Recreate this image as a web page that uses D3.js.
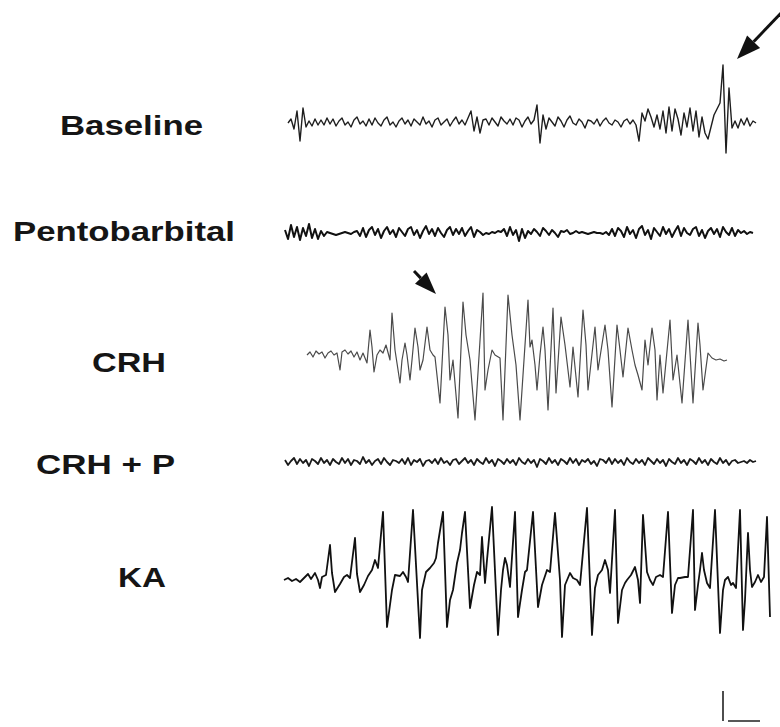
<!DOCTYPE html>
<html>
<head>
<meta charset="utf-8">
<script src="https://cdn.jsdelivr.net/npm/d3@7"></script>
<style>
  body { margin: 0; background: #fff; }
  svg { display: block; }
</style>
</head>
<body>
<div id="root"></div>
<script>
// Page size
const width = 780
const height = 727

// Row labels
const labels = ['Baseline', 'Pentobarbital', 'CRH', 'CRH + P', 'KA']

// Time is in 10 ms steps from the left edge of the traces
// Equally spaced traces: start time, step and amplitudes
const baselineStart = 8
const baselineStep = 3
const baselineAmp = [
  0, 4, -6, 12, -18, 15, -4, 2, -3, 4, -2,
  3, -2, 5, -1, 4, -3, 2, 5, -2, 1, -4, 3, 6, -1, 2, -3, 4, -2, 5, 0, -3, 3, 6, -2, 1, -4, 2, 5, -1, 3, -3, 4, 1, -2, 6, -1, 2, -4, 3, 5, -2, 1, 4, -3, 2, 6, -1, 3, -2, 5,
  12, -8, 6, -10, 3,
  4, -2, 5, 1, -3, 6, 2, -1, 4, -2, 5, 3, -4, 2, 6, -1, 3,
  18, -20, 8, -6,
  5, 1, -3, 6, 2, -4, 3, 7, 0, -2, 4, 1, -5, 3, 2, -1, 4, -3, 2, 5, 0, -2, 3, 1, -4, 2, 4, -1, 3, -2,
  -18, 10, 2, 14, 6, -4, 8, -6, 12, -10, 16, -8, 14, 4, -12, 10, -4, 15, -8, 12, -14, 6, -10, -16,
  -4, 8, 14, 20, 58, -30, 35, -5, 2,
  -5, 4, -2, 5, -3, 2, 0
]

const pentoStart = 5
const pentoStep = 3
const pentoAmp = [
  3, -6, 8, -4, 6, -7, 5, -3, 9, -5, 4, -6, 2, -3,
  1, 0, -1, -2, -1, 0, 1, 0, -1, 1, 2,
  -3, 5, -4, 3, 6, -2, 4, -5, 2, 6, -1, 3, -4, 5, 1, -3, 4, 6, -2, 3, -5, 2, 7, -1, 4, -3, 5, 0, -4, 3, 6, -2, 4, -1, 5, -3, 2, 6, -4, 3, 1, -2,
  0, -1, 1, 0, 2, 1,
  4, -3, 6, -2, 3, -8, 4, -5, 2,
  -1, 4, 1, -3, 5, 2, -2, 3, 0, -4, 2, 1, 3, -1, 0, 2,
  0, 1, 0, -1, 0, 1, 0, 0, -1, 1,
  -2, 4, -3, 5, 2, -4, 6, -1, 3, -5, 4, 7, -2, 3, -6, 5, 1, -3, 6, -1, 4, -4, 2, 7, -3, 5, 0, -2, 4, 6, -3, 3, -5, 2, 5, -1, 4, -4, 6, 1, -2, 5, -3, 3, 0, 2, -1, 1, 0
]

const crhpStart = 5
const crhpStep = 3
const crhpAmp = [
  2, -3, 1, 4, -2, 3, -1, 2, -4, 3, 1, -2, 4, -1, 2, -3, 3, 0, -2, 4,
  -1, 3, -3, 2, 1, -2, 5, -1, 2, -3, 1, 3, -2, 4, 0, -3, 2, 1, -1, 3,
  -2, 4, -3, 2, 0, 3, -4, 1, 2, -1, 3, -2, 4, -1, 1, -3, 2, 3, -2, 1,
  4, -1, 2, -3, 3, 0, -2, 4, -1, 2, -4, 3, 1, -2, 3, -1, 2, -3, 4, 0,
  -2, 3, -1, 2, -5, 3, 1, -2, 4, -1, 2, -3, 3, 1, -2, 4, -1, 3, -3, 2,
  0, 3, -2, 1, -4, 3, 2, -1, 4, -2, 3, -1, 2, -3, 4, 0, -2, 3, -1, 2,
  -3, 4, 1, -2, 3, -1, 2, -4, 3, 0, -2, 4, -1, 2, -3, 3, 1, -2, 4, -1,
  2, -3, 3, 0, -2, 4, -1, 2, -3, 1, 2, -1, 0, 1, -1, 2, 0, 1
]

// Spiky traces: time / amplitude pairs
const crhTime = [27, 30, 33, 36, 39, 42, 45, 48, 51, 54, 57, 60, 62, 65, 68, 71, 74, 77, 80, 83, 87, 90, 92, 94, 97, 100, 103, 106, 110, 112, 115, 120, 122, 125, 127, 130, 132, 135, 138, 140, 143, 147, 150, 153, 155, 160, 165, 168, 170, 173, 178, 183, 186, 190, 195, 203, 205, 208, 212, 215, 220, 223, 228, 232, 236, 240, 248, 250, 252, 255, 257, 260, 263, 265, 268, 273, 276, 281, 285, 290, 293, 298, 303, 306, 308, 315, 318, 325, 328, 332, 337, 340, 343, 348, 352, 355, 358, 362, 365, 368, 372, 375, 377, 380, 383, 390, 393, 397, 402, 408, 413, 418, 420, 423, 428, 432, 436, 440, 444, 447]
const crhAmp = [0, 3, -2, 4, 1, 3, -3, 2, 4, 0, 2, -15, 3, 5, 1, 4, -2, 3, -5, 2, -8, 25, 8, -17, 0, 5, 2, 10, -5, 42, 5, -28, -5, 12, 0, -25, -5, 27, 8, -15, -5, 28, 5, 0, -2, -48, 48, 20, -25, -5, -63, 53, 20, -5, -65, 62, -35, -15, 5, 0, -3, -65, 60, 20, -10, -65, 55, 8, 15, -10, -35, 0, 28, 5, -55, 47, -38, 38, 10, -32, 8, -42, 45, 10, -35, 28, -15, 30, 5, -52, 30, 5, -22, 27, 5, -10, -20, -35, 15, -10, 27, 5, -45, 0, -38, 35, -25, 0, -48, 35, -48, 32, 10, -35, 2, -3, -5, -4, -6, -5]

const kaTime = [4, 8, 12, 16, 20, 25, 28, 31, 35, 38, 40, 42, 46, 50, 52, 55, 60, 64, 67, 70, 75, 77, 80, 84, 88, 92, 95, 98, 103, 107, 112, 115, 120, 123, 126, 128, 133, 140, 142, 146, 150, 154, 156, 158, 163, 167, 170, 173, 177, 180, 182, 185, 188, 190, 194, 197, 200, 202, 205, 207, 212, 218, 221, 223, 225, 227, 230, 235, 238, 242, 245, 247, 253, 258, 262, 267, 270, 275, 280, 282, 285, 290, 293, 297, 300, 307, 312, 315, 318, 322, 325, 328, 330, 335, 338, 342, 345, 347, 351, 355, 358, 360, 363, 367, 370, 373, 376, 380, 383, 388, 392, 395, 398, 400, 405, 408, 413, 415, 418, 420, 422, 424, 427, 430, 435, 440, 443, 445, 448, 451, 453, 456, 460, 463, 465, 468, 470, 472, 475, 478, 481, 484, 487, 490]
const kaAmp = [0, 2, -1, 1, -2, 3, 6, 1, 7, 0, -8, 3, 5, 35, 7, -12, -4, 3, 5, 2, 42, 6, -12, -5, 4, 10, 20, 12, 68, -47, -10, 5, 4, 8, 3, -2, 70, -58, -10, 8, 12, 17, 22, 37, 68, -47, -20, -10, 17, 30, 47, 68, 10, -28, -5, 8, 5, 43, -3, 20, 73, -55, -10, 10, 22, 15, -7, 68, -37, -10, 8, 10, 68, -27, -5, 10, 8, 67, 0, -57, -5, 7, 2, 0, -5, 72, -55, -8, 5, 10, 20, 10, -13, 70, -43, -10, -3, 0, 5, 13, 0, -23, 65, 8, 0, -5, 3, 5, 3, 68, -33, -5, 2, 2, 3, 3, 70, -30, -5, 10, 27, 10, -3, -8, 70, -53, -10, 0, 3, -5, -3, -8, 70, -50, -20, 47, 10, -7, -2, 5, -2, 3, 63, -37]

// Calibration bar: time span and amplitude span
const calTime = 32
const calAmp = 30

// Build series as arrays of [time, amplitude]
const even = (t0, dt, amp) => amp.map((v, i) => [t0 + i * dt, v])
const pairs = (time, amp) => time.map((t, i) => [t, amp[i]])

const series = [
  { data: even(baselineStart, baselineStep, baselineAmp), color: '#1e1e1e', w: 1.4 },
  { data: even(pentoStart, pentoStep, pentoAmp), color: '#111', w: 2 },
  { data: pairs(crhTime, crhAmp), color: '#4a4a4a', w: 1.2 },
  { data: even(crhpStart, crhpStep, crhpAmp), color: '#1a1a1a', w: 1.8 },
  { data: pairs(kaTime, kaAmp), color: '#111', w: 1.8 }
]

// Row centres and label boxes
const rowY = [123, 233, 355, 462, 580]
const labelBox = [
  { x: 60, w: 143, y: 135 },
  { x: 13, w: 222, y: 241 },
  { x: 92, w: 74, y: 372 },
  { x: 36, w: 139, y: 474 },
  { x: 118, w: 48, y: 587 }
]

const svg = d3.select('#root').append('svg')
  .attr('width', width)
  .attr('height', height)

svg.append('rect').attr('width', width).attr('height', height).attr('fill', '#fff')

// Shared time scale
const xScale = d3.scaleLinear().domain([0, 490]).range([280, 770])

// Draw labels
svg.selectAll('.label')
  .data(labels)
  .enter().append('text')
  .attr('class', 'label')
  .attr('x', (d, i) => labelBox[i].x)
  .attr('y', (d, i) => labelBox[i].y)
  .attr('textLength', (d, i) => labelBox[i].w)
  .attr('lengthAdjust', 'spacingAndGlyphs')
  .attr('font-family', '"Liberation Sans", Arial, sans-serif')
  .attr('font-weight', 'bold')
  .attr('font-size', 28)
  .attr('fill', '#151515')
  .text(d => d)

// Draw traces
const tracesGroup = svg.append('g').attr('class', 'traces')
const yScales = rowY.map(c => d3.scaleLinear().domain([-80, 80]).range([c + 80, c - 80]))

series.forEach((s, i) => {
  const line = d3.line()
    .x(d => xScale(d[0]))
    .y(d => yScales[i](d[1]))
    .curve(d3.curveLinear)
  tracesGroup.append('path')
    .datum(s.data)
    .attr('fill', 'none')
    .attr('stroke', s.color)
    .attr('stroke-width', s.w)
    .attr('stroke-linejoin', 'round')
    .attr('d', line)
})

// Arrows pointing at events
const arrow = (tip, tail, head, hw) => {
  const dx = tip[0] - tail[0], dy = tip[1] - tail[1]
  const len = Math.hypot(dx, dy)
  const ux = dx / len, uy = dy / len
  const bx = tip[0] - ux * head, by = tip[1] - uy * head
  svg.append('line')
    .attr('x1', tail[0]).attr('y1', tail[1])
    .attr('x2', bx).attr('y2', by)
    .attr('stroke', '#111').attr('stroke-width', 3)
  svg.append('path')
    .attr('d', `M${tip[0]},${tip[1]}L${bx - uy * hw},${by + ux * hw}L${bx + uy * hw},${by - ux * hw}Z`)
    .attr('fill', '#111')
}

// Baseline spike arrow (tip just above the big spike)
const spikeT = baselineStart + 145 * baselineStep
arrow([xScale(spikeT) + 14, yScales[0](64)], [xScale(spikeT) + 60, yScales[0](112)], 24, 9)
// CRH onset arrow
arrow([xScale(156), yScales[2](61)], [xScale(134), yScales[2](84)], 22, 8)

// Calibration bar
const calX = 723, calY = 721
svg.append('path')
  .attr('d', `M${calX},${calY - calAmp}V${calY}M${calX + 5},${calY}H${calX + 5 + (xScale(calTime) - xScale(0))}`)
  .attr('fill', 'none')
  .attr('stroke', '#222')
  .attr('stroke-width', 1.6)
</script>
</body>
</html>
